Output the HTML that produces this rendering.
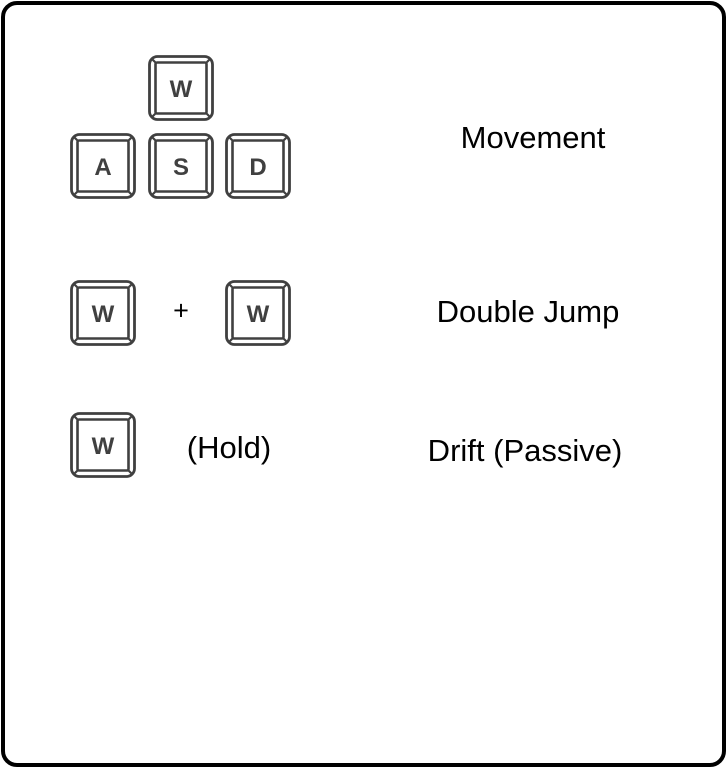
<!DOCTYPE html>
<html><head><style>
body{margin:0;width:726px;height:767px;background:#fff;overflow:hidden;font-family:"Liberation Sans",sans-serif}
.frame{position:absolute;left:1px;top:1px;width:717px;height:758px;border:4px solid #000;border-radius:16px}
.lbl{position:absolute;font-size:31px;color:#000;transform:translate(-50%,-50%);white-space:nowrap}
svg{position:absolute;left:0;top:0}
svg text{font-family:"Liberation Sans",sans-serif;font-size:24px;font-weight:bold;fill:#404040}
</style></head><body>
<div class="frame"></div>
<svg width="726" height="767">
<defs>
<g id="key">
<rect x="1.5" y="1.5" width="63" height="63" rx="8" fill="#fff" stroke="#404040" stroke-width="2.8"/>
<rect x="7.5" y="7.5" width="51" height="51" rx="1.5" fill="none" stroke="#404040" stroke-width="2.6"/>
<path d="M3.5 3.5L7.5 7.5M62.5 3.5L58.5 7.5M3.5 62.5L7.5 58.5M62.5 62.5L58.5 58.5" stroke="#404040" stroke-width="2.2"/>
</g>
</defs>
<g transform="translate(148,55)"><use href="#key"/><text x="33" y="42" text-anchor="middle">W</text></g>
<g transform="translate(70,133)"><use href="#key"/><text x="33" y="42" text-anchor="middle">A</text></g>
<g transform="translate(148,133)"><use href="#key"/><text x="33" y="42" text-anchor="middle">S</text></g>
<g transform="translate(225,133)"><use href="#key"/><text x="33" y="42" text-anchor="middle">D</text></g>
<g transform="translate(70,280)"><use href="#key"/><text x="33" y="42" text-anchor="middle">W</text></g>
<g transform="translate(225,280)"><use href="#key"/><text x="33" y="42" text-anchor="middle">W</text></g>
<g transform="translate(70,412)"><use href="#key"/><text x="33" y="42" text-anchor="middle">W</text></g>
</svg>
<div class="lbl" style="left:181px;top:311px;font-size:27px">+</div>
<div class="lbl" style="left:229px;top:448px">(Hold)</div>
<div class="lbl" style="left:533px;top:138px">Movement</div>
<div class="lbl" style="left:528px;top:312px">Double Jump</div>
<div class="lbl" style="left:525px;top:451px">Drift (Passive)</div>
</body></html>
